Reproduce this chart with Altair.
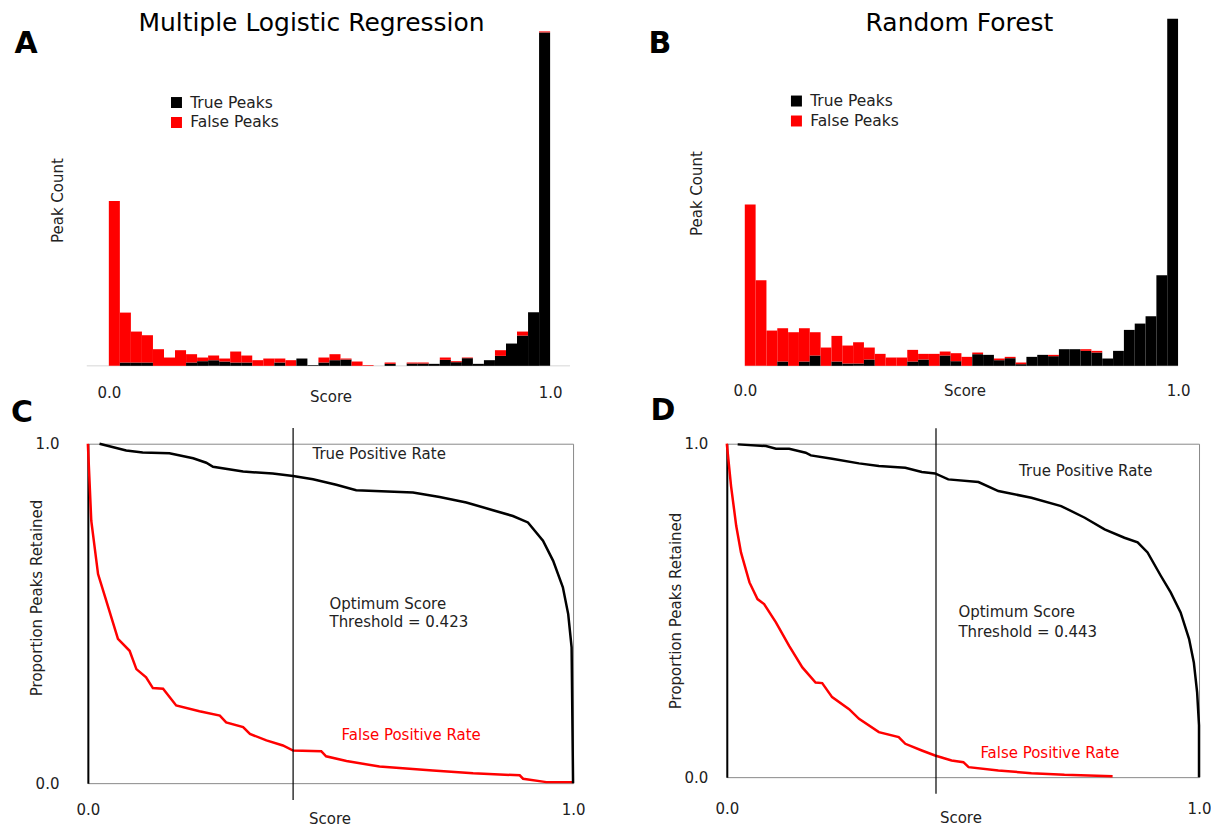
import altair as alt
import pandas as pd

FONT = "DejaVu Sans"
TXT = "#222222"

# ---------------- histogram data (40 bins over score 0..1) ----------------
bin_start = [0.000, 0.025, 0.050, 0.075, 0.100, 0.125, 0.150, 0.175, 0.200, 0.225,
             0.250, 0.275, 0.300, 0.325, 0.350, 0.375, 0.400, 0.425, 0.450, 0.475,
             0.500, 0.525, 0.550, 0.575, 0.600, 0.625, 0.650, 0.675, 0.700, 0.725,
             0.750, 0.775, 0.800, 0.825, 0.850, 0.875, 0.900, 0.925, 0.950, 0.975]
bin_end = [0.025, 0.050, 0.075, 0.100, 0.125, 0.150, 0.175, 0.200, 0.225, 0.250,
           0.275, 0.300, 0.325, 0.350, 0.375, 0.400, 0.425, 0.450, 0.475, 0.500,
           0.525, 0.550, 0.575, 0.600, 0.625, 0.650, 0.675, 0.700, 0.725, 0.750,
           0.775, 0.800, 0.825, 0.850, 0.875, 0.900, 0.925, 0.950, 0.975, 1.000]

true_A = [0, 10, 10, 10, 0, 0, 0, 10, 14, 17, 13, 10, 10, 0, 0, 10, 0, 22, 2, 10,
          17, 19, 0, 0, 0, 6, 0, 7, 7, 6, 18, 11, 23, 6, 17, 30, 67, 91, 161, 1002]
false_A = [495, 150, 93, 82, 50, 25, 47, 25, 11, 14, 9, 33, 21, 17, 22, 12, 17, 0, 0, 15,
           18, 3, 13, 2, 0, 4, 0, 3, 3, 0, 7, 3, 2, 0, 0, 17, 0, 12, 0, 3]

true_B = [0, 0, 0, 13, 0, 13, 31, 0, 13, 7, 7, 19, 0, 0, 0, 13, 19, 0, 31, 14,
          0, 35, 33, 17, 23, 5, 27, 33, 29, 50, 50, 45, 40, 22, 45, 108, 127, 149, 272, 1043]
false_B = [485, 257, 106, 100, 101, 100, 70, 55, 77, 54, 64, 36, 36, 25, 25, 35, 17, 36, 12, 24,
           27, 5, 0, 5, 4, 5, 0, 0, 4, 0, 0, 5, 5, 0, 0, 0, 0, 0, 0, 0]

classes = ["True Peaks", "False Peaks"]
class_colors = ["#000000", "#ff0000"]

# ---------------- retention curves ----------------
C_tpr_x = [0.024, 0.079, 0.113, 0.168, 0.217, 0.244, 0.258, 0.320, 0.381, 0.423, 0.464, 0.512,
           0.553, 0.670, 0.725, 0.780, 0.835, 0.876, 0.907, 0.938, 0.959, 0.979, 0.990, 0.997,
           1.000]
C_tpr_y = [1.000, 0.980, 0.974, 0.972, 0.957, 0.944, 0.932, 0.918, 0.912, 0.905, 0.895, 0.879,
           0.863, 0.856, 0.843, 0.827, 0.804, 0.787, 0.768, 0.714, 0.655, 0.577, 0.498, 0.400,
           0.000]
C_fpr_x = [0.000, 0.007, 0.021, 0.038, 0.062, 0.086, 0.100, 0.120, 0.134, 0.155, 0.182, 0.230,
           0.272, 0.285, 0.320, 0.334, 0.368, 0.402, 0.423, 0.481, 0.491, 0.533, 0.601, 0.711,
           0.794, 0.890, 0.897, 0.945, 1.000]
C_fpr_y = [1.000, 0.773, 0.616, 0.537, 0.425, 0.390, 0.336, 0.312, 0.280, 0.278, 0.229, 0.212,
           0.199, 0.179, 0.165, 0.145, 0.126, 0.111, 0.096, 0.094, 0.079, 0.065, 0.049, 0.037,
           0.029, 0.023, 0.013, 0.003, 0.003]

D_tpr_x = [0.023, 0.083, 0.104, 0.132, 0.167, 0.178, 0.223, 0.280, 0.322, 0.378, 0.413, 0.441,
           0.469, 0.533, 0.575, 0.645, 0.708, 0.758, 0.800, 0.842, 0.870, 0.891, 0.919, 0.940,
           0.961, 0.979, 0.989, 0.996, 1.000, 1.000]
D_tpr_y = [0.998, 0.993, 0.985, 0.985, 0.973, 0.965, 0.955, 0.941, 0.933, 0.928, 0.915, 0.911,
           0.893, 0.885, 0.858, 0.838, 0.813, 0.778, 0.743, 0.718, 0.704, 0.674, 0.604, 0.554,
           0.494, 0.414, 0.344, 0.254, 0.155, 0.000]
D_fpr_x = [0.000, 0.009, 0.020, 0.030, 0.048, 0.065, 0.079, 0.104, 0.132, 0.160, 0.188, 0.202,
           0.223, 0.259, 0.280, 0.322, 0.364, 0.378, 0.413, 0.441, 0.476, 0.501, 0.512, 0.575,
           0.645, 0.715, 0.817]
D_fpr_y = [1.000, 0.873, 0.753, 0.674, 0.584, 0.534, 0.519, 0.464, 0.394, 0.329, 0.284, 0.282,
           0.240, 0.204, 0.175, 0.135, 0.120, 0.100, 0.080, 0.065, 0.050, 0.045, 0.030, 0.020,
           0.012, 0.007, 0.003]

C_threshold = 0.423
D_threshold = 0.443

NO_VIEW = alt.ViewBackground(strokeWidth=0, strokeOpacity=0)
BOX_VIEW = alt.ViewBackground(stroke="#8a8a8a", strokeWidth=1)


def hist_df(tp, fp):
    rows = []
    for s, e, t, f in zip(bin_start, bin_end, tp, fp):
        rows.append({"start": s, "end": e, "count": t, "cls": classes[0], "ord": 0})
        rows.append({"start": s, "end": e, "count": f, "cls": classes[1], "ord": 1})
    return pd.DataFrame(rows)


def letter(txt, px, py):
    return alt.Chart(pd.DataFrame({"t": [txt]})).mark_text(
        font=FONT, fontSize=30, fontWeight="bold", color="#000000",
        align="center", baseline="middle"
    ).encode(text="t:N", x=alt.value(px), y=alt.value(py))


def title_text(txt, px, py):
    return alt.Chart(pd.DataFrame({"t": [txt]})).mark_text(
        font=FONT, fontSize=25, color="#000000", align="center", baseline="middle"
    ).encode(text="t:N", x=alt.value(px), y=alt.value(py))


def histogram(tp, fp, xdomain, baseline_span, width, height, ymax, lab_pad,
              xt_x, xt_y, yt_x, yt_y, leg_x, leg_y, title, tpos, let, lpos):
    df = hist_df(tp, fp)
    xs = alt.Scale(domain=xdomain, nice=False, zero=False)
    ys = alt.Scale(domain=[0, ymax], nice=False)
    base = alt.Chart(pd.DataFrame({"x": [baseline_span[0]], "x2": [baseline_span[1]], "y": [0]})).mark_rule(
        color="#e4e4e4", strokeWidth=1.5
    ).encode(x=alt.X("x:Q", scale=xs), x2="x2:Q", y=alt.Y("y:Q", scale=ys))
    bars = alt.Chart(df).transform_stack(
        stack="count", groupby=["start"], as_=["y0", "y1"],
        sort=[alt.SortField("ord", order="ascending")],
    ).mark_bar(strokeWidth=0).encode(
        x=alt.X("start:Q", scale=xs,
                axis=alt.Axis(values=[0, 1], format=".1f", ticks=False, domain=False, grid=False,
                              labelFlush=False, labelFont=FONT, labelFontSize=15, labelColor=TXT,
                              labelPadding=lab_pad, title="Score", titleFont=FONT, titleFontSize=15,
                              titleFontWeight="normal", titleColor=TXT, titleX=xt_x, titleY=xt_y,
                              titleBaseline="middle", titleAlign="center")),
        x2="end:Q",
        y=alt.Y("y1:Q", scale=ys,
                axis=alt.Axis(labels=False, ticks=False, domain=False, grid=False,
                              title="Peak Count", titleFont=FONT, titleFontSize=15,
                              titleFontWeight="normal", titleColor=TXT, titleX=yt_x, titleY=yt_y,
                              titleAngle=270, titleBaseline="middle", titleAlign="center")),
        y2="y0:Q",
        color=alt.Color("cls:N", scale=alt.Scale(domain=classes, range=class_colors),
                        legend=alt.Legend(title=None, orient="none", legendX=leg_x, legendY=leg_y,
                                          symbolType="square", symbolSize=121, symbolStrokeWidth=0,
                                          labelFont=FONT, labelFontSize=15.5, labelColor=TXT,
                                          labelOffset=6, rowPadding=3, padding=0)),
    )
    return alt.layer(base, bars, title_text(title, *tpos), letter(let, *lpos)).properties(
        width=width, height=height, view=NO_VIEW
    )


def retention(tx, ty, fx, fy, thr, width, height, xlab_pad, ylab_pad, xt_x, xt_y, yt_x, yt_y,
              notes, let, lpos):
    xs = alt.Scale(domain=[0, 1], nice=False)
    ys = alt.Scale(domain=[0, 1], nice=False)
    xaxis = alt.Axis(values=[0, 1], format=".1f", ticks=False, domain=False, grid=False,
                     labelFlush=False, labelFont=FONT, labelFontSize=15, labelColor=TXT,
                     labelPadding=xlab_pad, title="Score", titleFont=FONT, titleFontSize=15,
                     titleFontWeight="normal", titleColor=TXT, titleX=xt_x, titleY=xt_y,
                     titleBaseline="middle", titleAlign="center")
    yaxis = alt.Axis(values=[0, 1], format=".1f", ticks=False, domain=True, domainColor="#000000",
                     domainWidth=2, grid=False, labelFont=FONT, labelFontSize=15, labelColor=TXT,
                     labelPadding=ylab_pad, title="Proportion Peaks Retained", titleFont=FONT,
                     titleFontSize=15, titleFontWeight="normal", titleColor=TXT, titleX=yt_x,
                     titleY=yt_y, titleAngle=270, titleBaseline="middle", titleAlign="center")
    tdf = pd.DataFrame({"x": tx, "y": ty, "i": list(range(len(tx)))})
    fdf = pd.DataFrame({"x": fx, "y": fy, "i": list(range(len(fx)))})
    fpr = alt.Chart(fdf).mark_line(color="#ff0000", strokeWidth=2.5).encode(
        x=alt.X("x:Q", scale=xs, axis=xaxis), y=alt.Y("y:Q", scale=ys, axis=yaxis), order="i:Q")
    tpr = alt.Chart(tdf).mark_line(color="#000000", strokeWidth=2.5).encode(
        x=alt.X("x:Q", scale=xs), y=alt.Y("y:Q", scale=ys), order="i:Q")
    rule = alt.Chart(pd.DataFrame({"x": [thr], "y": [-0.05], "y2": [1.046]})).mark_rule(
        color="#000000", strokeWidth=1.2
    ).encode(x=alt.X("x:Q", scale=xs), y=alt.Y("y:Q", scale=ys), y2="y2:Q")
    ndf = pd.DataFrame(notes, columns=["x", "y", "text", "color"])
    txt = alt.Chart(ndf).mark_text(font=FONT, fontSize=15, align="left", baseline="middle").encode(
        x=alt.X("x:Q", scale=xs), y=alt.Y("y:Q", scale=ys), text="text:N",
        color=alt.Color("color:N", scale=None))
    return alt.layer(fpr, tpr, rule, txt, letter(let, *lpos)).properties(
        width=width, height=height, view=BOX_VIEW
    )


# column 1 plot areas start at x=87, column 2 at x=727 (page pixels)
chart_A = histogram(true_A, false_A, [-0.0475, 1.052], [-0.05, 1.045], 486, 348, 1044, 20,
                    243, 31, -30, 182, 81, 76.5, "Multiple Logistic Regression", (224, 5),
                    "A", (-62, 26))
chart_B = histogram(true_B, false_B, [-0.0415, 1.0], [0, 1], 452, 348, 1044, 18,
                    238, 25, -30, 175, 62, 75, "Random Forest", (233, 5),
                    "B", (-67, 26))

notes_C = [
    [0.463, 0.970, "True Positive Rate", TXT],
    [0.498, 0.528, "Optimum Score", TXT],
    [0.498, 0.475, "Threshold = 0.423", TXT],
    [0.523, 0.143, "False Positive Rate", "#ff0000"],
]
notes_D = [
    [0.619, 0.917, "True Positive Rate", TXT],
    [0.4905, 0.495, "Optimum Score", TXT],
    [0.4905, 0.435, "Threshold = 0.443", TXT],
    [0.537, 0.073, "False Positive Rate", "#ff0000"],
]

chart_C = retention(C_tpr_x, C_tpr_y, C_fpr_x, C_fpr_y, C_threshold, 486, 340, 19, 29,
                    242, 35, -51, 154, notes_C, "C", (-66, -31))
chart_D = retention(D_tpr_x, D_tpr_y, D_fpr_x, D_fpr_y, D_threshold, 473, 334, 24, 19,
                    234, 40.5, -51, 167, notes_D, "D", (-64, -33))

chart = alt.concat(
    chart_A, chart_B, chart_C, chart_D, columns=2,
    spacing={"row": 78, "column": 154}, bounds="flush",
).resolve_scale(x="independent", y="independent", color="independent").resolve_legend(
    color="independent"
).properties(
    padding={"left": 2, "top": 2.75, "right": -1, "bottom": 1}
).configure(font=FONT)

chart.save("out.html", embed_options={"renderer": "svg", "actions": False})
